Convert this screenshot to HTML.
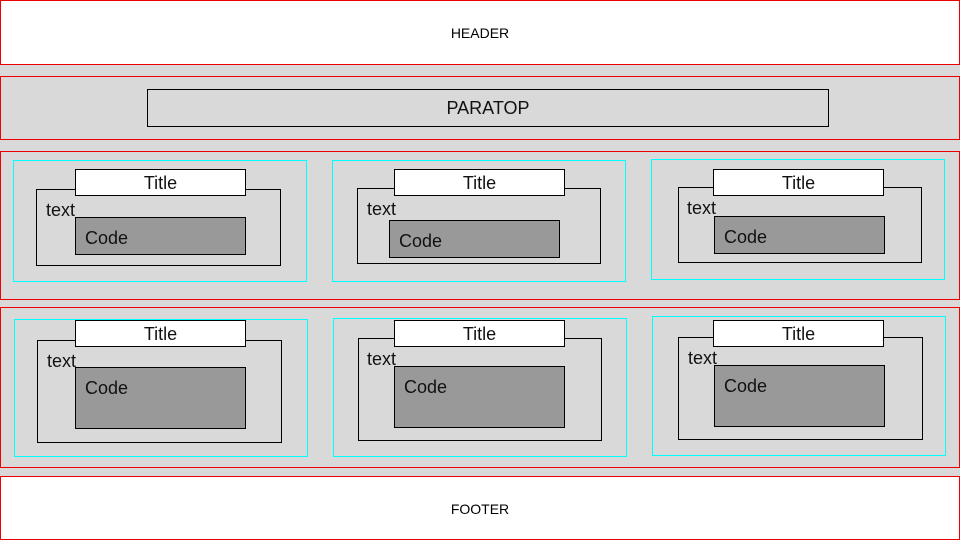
<!DOCTYPE html>
<html><head><style>
body{margin:0;width:960px;height:540px;position:relative;background:#fff;font-family:"Liberation Sans",sans-serif;overflow:hidden}
div{position:absolute;box-sizing:border-box}
.r{border:1px solid #e00}
.g{background:#d9d9d9}
.c{border:1px solid #0ff}
.in{border:1px solid #000}
.t{background:#fff;border:1px solid #000;text-align:center;font-size:18px;line-height:26px;color:#111}
.cd{background:#999;border:1px solid #000;font-size:18px;color:#111;padding:10px 0 0 9px;line-height:20px}
.tx{font-size:18px;color:#111;line-height:20px}
</style></head><body>
<div class="g" style="left:0;top:64px;width:960px;height:412px"></div>
<div class="r" style="left:0;top:0;width:960px;height:65px;background:#fff;font-size:14px;text-align:center;line-height:65px">HEADER</div>
<div class="r g" style="left:0;top:76px;width:960px;height:64px"></div>
<div class="in" style="left:147px;top:89px;width:682px;height:38px;text-align:center;font-size:18px;line-height:36px;color:#111">PARATOP</div>
<div class="r" style="left:0;top:151px;width:960px;height:149px"></div>
<div class="r" style="left:0;top:307px;width:960px;height:161px"></div>
<div class="r" style="left:0;top:476px;width:960px;height:64px;background:#fff;font-size:14px;text-align:center;line-height:64px">FOOTER</div>

<div class="c" style="left:13px;top:160px;width:294px;height:122px"></div>
<div class="in" style="left:36px;top:189px;width:245px;height:77px"></div>
<div class="tx" style="left:46px;top:200px">text</div>
<div class="t" style="left:75px;top:169px;width:171px;height:27px">Title</div>
<div class="cd" style="left:75px;top:217px;width:171px;height:38px">Code</div>

<div class="c" style="left:332px;top:160px;width:294px;height:122px"></div>
<div class="in" style="left:357px;top:188px;width:244px;height:76px"></div>
<div class="tx" style="left:367px;top:199px">text</div>
<div class="t" style="left:394px;top:169px;width:171px;height:27px">Title</div>
<div class="cd" style="left:389px;top:220px;width:171px;height:38px">Code</div>

<div class="c" style="left:651px;top:159px;width:294px;height:121px"></div>
<div class="in" style="left:678px;top:187px;width:244px;height:76px"></div>
<div class="tx" style="left:687px;top:198px">text</div>
<div class="t" style="left:713px;top:169px;width:171px;height:27px">Title</div>
<div class="cd" style="left:714px;top:216px;width:171px;height:38px">Code</div>

<div class="c" style="left:14px;top:319px;width:294px;height:138px"></div>
<div class="in" style="left:37px;top:340px;width:245px;height:103px"></div>
<div class="tx" style="left:47px;top:351px">text</div>
<div class="t" style="left:75px;top:320px;width:171px;height:27px">Title</div>
<div class="cd" style="left:75px;top:367px;width:171px;height:62px">Code</div>

<div class="c" style="left:333px;top:318px;width:294px;height:139px"></div>
<div class="in" style="left:358px;top:338px;width:244px;height:103px"></div>
<div class="tx" style="left:367px;top:349px">text</div>
<div class="t" style="left:394px;top:320px;width:171px;height:27px">Title</div>
<div class="cd" style="left:394px;top:366px;width:171px;height:62px">Code</div>

<div class="c" style="left:652px;top:316px;width:294px;height:140px"></div>
<div class="in" style="left:678px;top:337px;width:245px;height:103px"></div>
<div class="tx" style="left:688px;top:348px">text</div>
<div class="t" style="left:713px;top:320px;width:171px;height:27px">Title</div>
<div class="cd" style="left:714px;top:365px;width:171px;height:62px">Code</div>
</body></html>
